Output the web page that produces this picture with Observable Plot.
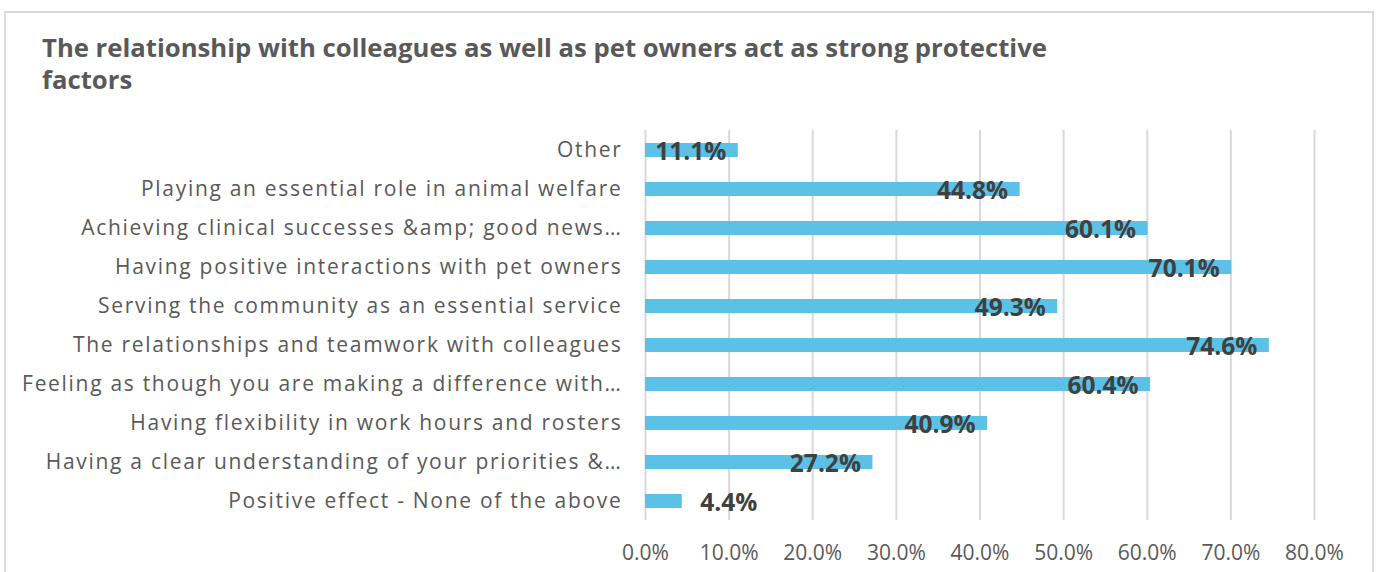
<!DOCTYPE html>
<html>
<head>
<meta charset="utf-8">
<script src="https://cdn.jsdelivr.net/npm/d3@7"></script>
<script src="https://cdn.jsdelivr.net/npm/@observablehq/plot@0.6"></script>
<style>
  html, body { margin: 0; padding: 0; background: #fff; }
  #wrap { position: relative; width: 1381px; height: 572px; overflow: hidden; }
  #frame { position: absolute; left: 4px; top: 11px; width: 1370px; height: 620px;
           border: 2px solid #d9d9d9; box-sizing: border-box; }
  #title { position: absolute; left: 42px; top: 32px; font-family: "Open Sans", sans-serif;
           font-weight: 700; font-size: 25.7px; line-height: 32px; color: #595959; white-space: nowrap; }
  #chart { position: absolute; left: 0; top: 0; }
  g[aria-label="y-axis tick label"] text { letter-spacing: 1.7px; }
</style>
</head>
<body>
<div id="wrap">
  <div id="frame"></div>
  <div id="title">The relationship with colleagues as well as pet owners act as strong protective<br>factors</div>
  <div id="chart"></div>
</div>
<script>
const categories = [
  "Other",
  "Playing an essential role in animal welfare",
  "Achieving clinical successes &amp; good news…",
  "Having positive interactions with pet owners",
  "Serving the community as an essential service",
  "The relationships and teamwork with colleagues",
  "Feeling as though you are making a difference with…",
  "Having flexibility in work hours and rosters",
  "Having a clear understanding of your priorities &…",
  "Positive effect - None of the above"
];
const values = [11.1, 44.8, 60.1, 70.1, 49.3, 74.6, 60.4, 40.9, 27.2, 4.4];
const xTicks = [0, 10, 20, 30, 40, 50, 60, 70, 80];

const data = categories.map((c, i) => ({category: c, value: values[i]}));

const chart = Plot.plot({
  width: 1381,
  height: 572,
  marginLeft: 645,
  marginRight: 67,
  marginTop: 130,
  marginBottom: 52,
  style: {fontFamily: "'Open Sans', sans-serif", color: "#595959", background: "transparent", overflow: "visible"},
  x: {domain: [0, 80], ticks: xTicks, tickFormat: d => d.toFixed(1) + "%"},
  y: {domain: categories, paddingInner: 0.65, paddingOuter: 0.325},
  marks: [
    Plot.ruleX(xTicks, {stroke: "#d9d9d9", strokeWidth: 2}),
    Plot.barX(data, {x: "value", y: "category", fill: "#5bc1e6"}),
    Plot.text(data.filter(d => d.value >= 8), {x: "value", y: "category", text: d => d.value.toFixed(1) + "%",
      textAnchor: "end", dx: -12, dy: 2, fontSize: 24.5, fontWeight: 700, fill: "#404040"}),
    Plot.text(data.filter(d => d.value < 8), {x: "value", y: "category", text: d => d.value.toFixed(1) + "%",
      textAnchor: "start", dx: 18, dy: 2, fontSize: 24.5, fontWeight: 700, fill: "#404040"}),
    Plot.axisY({tickSize: 0, tickPadding: 23, fontSize: 21, label: null}),
    Plot.axisX({ticks: xTicks, tickFormat: d => d.toFixed(1) + "%", tickSize: 0, tickPadding: 25, fontSize: 21, label: null})
  ]
});
document.getElementById("chart").appendChild(chart);
</script>
</body>
</html>
